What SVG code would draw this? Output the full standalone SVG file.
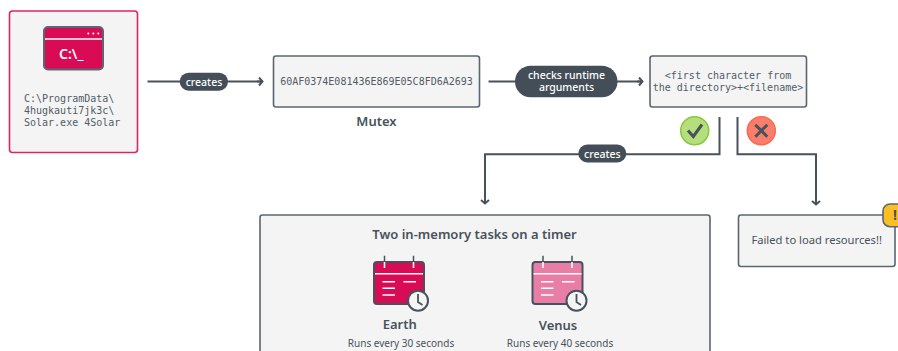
<svg xmlns="http://www.w3.org/2000/svg" width="898" height="351" viewBox="0 0 898 351">
<style>
.box{fill:#f4f4f4;stroke:#5b6670;stroke-width:1.6}
.line{fill:none;stroke:#47525c;stroke-width:2}
.mono{font-family:"DejaVu Sans Mono","Liberation Mono",monospace;font-size:10px;fill:#515c66}
.sans{font-family:"Noto Sans","Open Sans",sans-serif;fill:#47525c}
.pill{fill:#434e58}
.pt{font-family:"Noto Sans","Open Sans",sans-serif;font-size:10.5px;font-weight:500;fill:#fff;text-anchor:middle}
.w{fill:none;stroke:#fff;stroke-width:1.6}
</style>
<defs>
<marker id="arrow" markerUnits="userSpaceOnUse" markerWidth="10" markerHeight="12" refX="6.500" refY="5" orient="auto">
<path d="M2.500 1 L6 5 L2.500 9 M0 5 H6" fill="none" stroke="#47525c" stroke-width="2"/>
</marker>
<g id="cal">
<path d="M0 6 a3 3 0 0 1 3-3 H47 a3 3 0 0 1 3 3 V45 H3 a3 3 0 0 1-3-3 Z" stroke="#47525c" stroke-width="2"/>
<path class="w" d="M1 14.700 H49"/>
<path d="M10.500 -3.300 V3 M39.500 -3.300 V3" stroke="#47525c" stroke-width="1.500"/>
<path d="M10.500 3 V9 M39.500 3 V9" class="w"/>
<path class="w" d="M8.500 22.700 H21 M29.500 22.700 H42 M8.500 29.300 H21 M8.500 36 H21"/>
<circle cx="44" cy="41.700" r="10" fill="#f4f4f4" stroke="#47525c" stroke-width="2"/>
<path d="M44 35 V43 L48.500 46" fill="none" stroke="#47525c" stroke-width="1.800"/>
</g>
</defs>

<g id="connectors">
<path class="line" d="M147.500 81.500 H263" marker-end="url(#arrow)"/>
<path class="line" d="M488.500 81.500 H643" marker-end="url(#arrow)"/>
<path class="line" d="M719.500 117 V154.300 H485 V204" marker-end="url(#arrow)"/>
<path class="line" d="M737.500 117 V154.300 H816 V205" marker-end="url(#arrow)"/>
</g>

<g id="node-solar">
<rect x="9.500" y="11" width="128" height="141.500" rx="3" fill="#f4f4f4" stroke="#e0245e" stroke-width="1.600"/>
<rect x="44" y="27" width="59" height="42.500" rx="4" fill="#d90b55" stroke="#5b6670" stroke-width="2"/>
<path class="w" d="M45 39 H102"/>
<circle cx="88.300" cy="33.400" r="1" fill="#fff"/><circle cx="93.300" cy="33.400" r="1" fill="#fff"/><circle cx="98.300" cy="33.400" r="1" fill="#fff"/>
<text x="59" y="59" font-family="Noto Sans,sans-serif" font-size="14" font-weight="600" fill="#fff">C:\_</text>
<text class="mono" x="24" y="102">C:\ProgramData\</text>
<text class="mono" x="24" y="114">4hugkauti7jk3c\</text>
<text class="mono" x="24" y="126">Solar.exe 4Solar</text>
</g>

<g id="label-creates-1">
<rect class="pill" x="179.700" y="72.700" width="48.300" height="18" rx="9"/>
<text class="pt" x="204" y="85.500">creates</text>
</g>

<g id="node-mutex">
<rect class="box" x="273.500" y="56" width="206" height="51" rx="2.500"/>
<text class="mono" x="376.500" y="85" text-anchor="middle">60AF0374E081436E869E05C8FD6A2693</text>
<text class="sans" x="376.500" y="126" text-anchor="middle" font-size="13" font-weight="600">Mutex</text>
</g>

<g id="label-checks">
<rect class="pill" x="515" y="65.700" width="102.500" height="31.600" rx="15.800"/>
<text class="pt" x="566.500" y="79">checks runtime<tspan x="566.500" dy="11.500">arguments</tspan></text>
</g>

<g id="node-filename">
<rect class="box" x="650" y="56" width="156.500" height="51" rx="2.500"/>
<text class="mono" x="728" y="78.500" text-anchor="middle">&lt;first character from</text>
<text class="mono" x="728" y="90.500" text-anchor="middle">the directory&gt;+&lt;filename&gt;</text>
</g>

<g id="icon-check">
<circle cx="694.700" cy="130.700" r="14" fill="#b5df7d" stroke="#8cc63f" stroke-width="1.500"/>
<path d="M688 130.500 L693.300 136.500 L702 124.500" fill="none" stroke="#47525c" stroke-width="3"/>
</g>
<g id="icon-cross">
<circle cx="761.300" cy="130.700" r="14" fill="#fb7d6c" stroke="#fb6a50" stroke-width="1.500"/>
<path d="M755.300 124.700 L767.300 136.700 M767.300 124.700 L755.300 136.700" fill="none" stroke="#47525c" stroke-width="3"/>
</g>

<g id="label-creates-2">
<rect class="pill" x="578.300" y="144.500" width="48" height="18" rx="9"/>
<text class="pt" x="602.300" y="157.500">creates</text>
</g>

<g id="node-tasks">
<rect class="box" x="260" y="215" width="450" height="150" rx="2.500"/>
<text class="sans" x="474.500" y="239" text-anchor="middle" font-size="13" font-weight="600">Two in-memory tasks on a timer</text>
<g id="task-earth">
<use href="#cal" x="374" y="259" fill="#d90b55"/>
<text class="sans" x="399.700" y="329" text-anchor="middle" font-size="13" font-weight="600">Earth</text>
<text class="sans" x="401" y="347" text-anchor="middle" font-size="10">Runs every 30 seconds</text>
</g>
<g id="task-venus">
<use href="#cal" x="532.500" y="259" fill="#e87ea6"/>
<text class="sans" x="558" y="330" text-anchor="middle" font-size="13" font-weight="600">Venus</text>
<text class="sans" x="560" y="347" text-anchor="middle" font-size="10">Runs every 40 seconds</text>
</g>
</g>

<g id="node-failed">
<rect class="box" x="738.500" y="215" width="156.500" height="51.500" rx="2.500"/>
<text class="sans" x="816.700" y="244" text-anchor="middle" font-size="11.200">Failed to load resources!!</text>
<rect x="883" y="204" width="30" height="22.700" rx="7" fill="#fbbf24" stroke="#5b6670" stroke-width="1.600"/>
<text class="sans" x="895" y="219.500" text-anchor="middle" font-size="14" font-weight="700">!</text>
</g>
</svg>
